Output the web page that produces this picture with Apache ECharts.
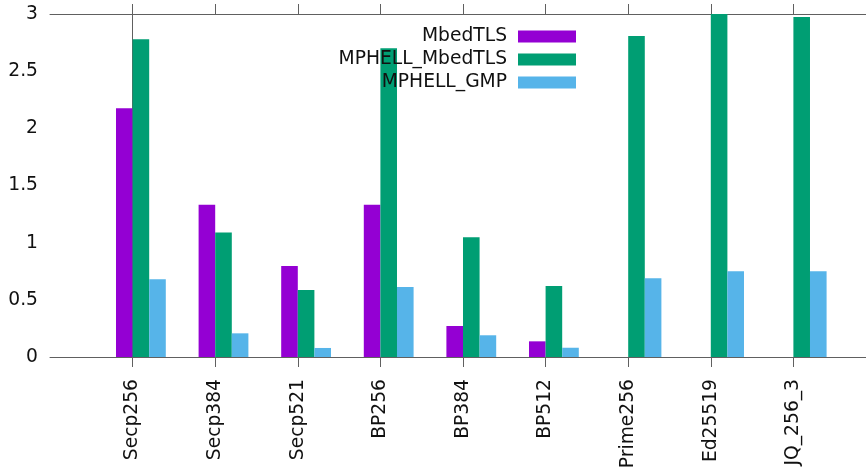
<!DOCTYPE html>
<html>
<head>
<meta charset="utf-8">
<script src="https://cdn.jsdelivr.net/npm/echarts@6/dist/echarts.min.js"></script>
<style>
  html, body { margin: 0; padding: 0; background: #fff; }
  #chart { width: 866px; height: 470px; }
</style>
</head>
<body>
<div id="chart"></div>
<script>
// Curve / implementation benchmark categories
const categories = ['Secp256', 'Secp384', 'Secp521', 'BP256', 'BP384', 'BP512', 'Prime256', 'Ed25519', 'JQ_256_3'];
const seriesNames = ['MbedTLS', 'MPHELL_MbedTLS', 'MPHELL_GMP'];
const mbedtls       = [2.175, 1.332, 0.796, 1.332, 0.271, 0.137, null, null, null];
const mphellMbedtls = [2.78, 1.09, 0.586, 2.70, 1.047, 0.621, 2.808, 3.0, 2.974];
const mphellGmp     = [0.68, 0.207, 0.079, 0.612, 0.19, 0.081, 0.688, 0.75, 0.75];
const yTicks = { min: 0, max: 3, step: 0.5 };

const colors = ['#9400d3', '#009e73', '#56b4e9'];
const axisGrey = '#606060';
const font = 'DejaVu Sans';
const fontSize = 18.7;

const toPoints = arr => arr.map((v, i) => [i, v]);
const tickPositions = categories.map((_, i) => i);

const barBase = {
  type: 'bar',
  barWidth: 16.6,
  barGap: '0%',
  xAxisIndex: 0,
  yAxisIndex: 0
};

const chart = echarts.init(document.getElementById('chart'), null, { renderer: 'canvas' });

const xCommon = {
  type: 'value',
  min: -1,
  max: 8.879,
  interval: 1,
  splitLine: { show: false },
  axisLine: { show: true, onZero: false, lineStyle: { color: axisGrey, width: 1 } },
  axisTick: { show: true, inside: false, length: 10, customValues: tickPositions, lineStyle: { color: axisGrey } }
};

chart.setOption({
  animation: false,
  textStyle: { fontFamily: font },
  grid: { left: 50, right: 0, top: 14, bottom: 113, containLabel: false, outerBoundsMode: 'none' },
  legend: {
    data: seriesNames,
    orient: 'vertical',
    align: 'right',
    right: 290,
    top: 27,
    padding: 0,
    itemWidth: 58,
    itemHeight: 12,
    itemGap: 4,
    icon: 'rect',
    textStyle: { fontFamily: font, fontSize: fontSize, color: '#111', padding: [0, 6, 0, 0] }
  },
  xAxis: [
    Object.assign({}, xCommon, {
      position: 'bottom',
      axisLabel: {
        rotate: 90,
        margin: 22,
        fontFamily: font,
        fontSize: fontSize,
        color: '#111',
        customValues: tickPositions,
        formatter: v => categories[Math.round(v)] || ''
      }
    }),
    Object.assign({}, xCommon, {
      position: 'top',
      axisLabel: { show: false }
    })
  ],
  yAxis: {
    type: 'value',
    min: yTicks.min,
    max: yTicks.max,
    interval: yTicks.step,
    splitLine: { show: false },
    axisLine: { show: true, lineStyle: { color: axisGrey, width: 1 } },
    axisTick: { show: true, inside: true, length: 10, lineStyle: { color: axisGrey } },
    axisLabel: {
      margin: 12,
      fontFamily: font,
      fontSize: fontSize,
      color: '#111',
      formatter: v => String(v)
    }
  },
  series: [
    // empty leading slot so each cluster starts at its tick
    Object.assign({}, barBase, { name: '_slot', data: [], silent: true }),
    Object.assign({}, barBase, { name: seriesNames[0], data: toPoints(mbedtls), itemStyle: { color: colors[0] } }),
    Object.assign({}, barBase, { name: seriesNames[1], data: toPoints(mphellMbedtls), itemStyle: { color: colors[1] } }),
    Object.assign({}, barBase, { name: seriesNames[2], data: toPoints(mphellGmp), itemStyle: { color: colors[2] } })
  ]
});
</script>
</body>
</html>
